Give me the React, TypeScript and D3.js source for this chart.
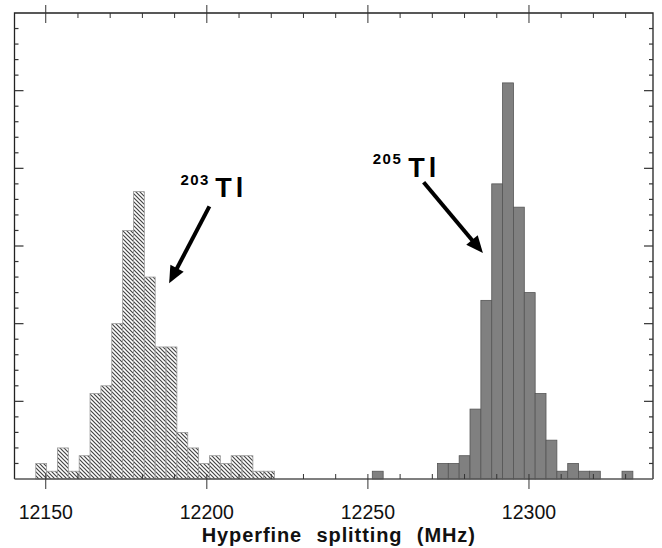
import React from "react";
import * as d3 from "d3";

// histogram bins (MHz)
const binStart = 12146.9;
const binWidth = 3.37;

// 203Tl counts, first bin index 0
const tl203Counts = [2, 1, 4, 1, 3, 11, 12, 20, 32, 37, 26, 17, 17, 6, 4, 2, 3, 2, 3, 3, 1, 1];
const tl203FirstBin = 0;

// 205Tl counts, first bin index 31
const tl205Counts = [1, 0, 0, 0, 0, 0, 2, 2, 3, 9, 23, 38, 51, 35, 24, 11, 5, 1, 2, 1, 1, 0, 0, 1];
const tl205FirstBin = 31;

const xTickValues = [12150, 12200, 12250, 12300];
const xAxisLabel = "Hyperfine splitting (MHz)";

// isotope labels: mass number, label anchor and arrow (data units)
const isotopes = [
  { mass: "203", at: [12191.8, 37.8], tl: [12202.6, 36.3], from: [12200.8, 35.1], to: [12188.3, 25.2] },
  { mass: "205", at: [12251.5, 40.6], tl: [12262.5, 38.9], from: [12267.3, 38.2], to: [12285.7, 29.1] }
];

const font = "'Liberation Sans', Arial, Helvetica, sans-serif";

function makeBins(counts: number[], first: number) {
  return counts
    .map((c, i) => ({
      x0: binStart + (first + i) * binWidth,
      x1: binStart + (first + i + 1) * binWidth,
      c
    }))
    .filter(d => d.c > 0);
}

export default function App() {
  const width = 662;
  const height = 548;
  const left = 14.5, right = 653, top = 13, bottom = 479;

  const x = d3.scaleLinear().domain([12140.3, 12338.5]).range([left, right]);
  const y = d3.scaleLinear().domain([0, 60]).range([bottom, top]);

  const bins203 = makeBins(tl203Counts, tl203FirstBin);
  const bins205 = makeBins(tl205Counts, tl205FirstBin);

  const xMinor = d3.range(12150, 12339, 10).filter(v => v % 50 !== 0);
  const yMinor = d3.range(2, 60, 2).filter(v => v % 10 !== 0);
  const yMajor = d3.range(10, 60, 10);

  const arrowHead = (x1: number, y1: number, x2: number, y2: number) => {
    const dx = x2 - x1, dy = y2 - y1;
    const len = Math.hypot(dx, dy);
    const ux = dx / len, uy = dy / len;
    const hl = 17, hw = 7.5;
    const bx = x2 - ux * hl, by = y2 - uy * hl;
    return {
      line: [x1, y1, bx + ux * 2, by + uy * 2],
      pts: `${x2},${y2} ${bx - uy * hw},${by + ux * hw} ${bx + uy * hw},${by - ux * hw}`
    };
  };

  const tickColor = "#333";

  return (
    <svg
      width={width}
      height={height}
      style={{ position: "absolute", left: 0, top: 0, background: "#fff" }}
    >
      <defs>
        <pattern id="hatch" patternUnits="userSpaceOnUse" width="4" height="4">
          <rect width="4" height="4" fill="#fff" />
          <path d="M-1,-1 L5,5 M3,-1 L5,1 M-1,3 L1,5" stroke="#444" strokeWidth="1.2" />
        </pattern>
      </defs>

      {/* 203Tl hatched histogram */}
      {bins203.map((d, i) => (
        <rect
          key={"a" + i}
          x={x(d.x0)}
          y={y(d.c)}
          width={x(d.x1) - x(d.x0)}
          height={y(0) - y(d.c)}
          fill="url(#hatch)"
          stroke="#999"
          strokeWidth={0.8}
        />
      ))}

      {/* 205Tl filled histogram */}
      {bins205.map((d, i) => (
        <rect
          key={"b" + i}
          x={x(d.x0)}
          y={y(d.c)}
          width={x(d.x1) - x(d.x0)}
          height={y(0) - y(d.c)}
          fill="#808080"
          stroke="#555"
          strokeWidth={0.8}
        />
      ))}

      {/* frame */}
      <path
        d={`M${left},${bottom} V${top} H${right} V${bottom}`}
        fill="none"
        stroke="#222"
        strokeWidth={1.3}
      />
      <line x1={left} x2={right} y1={bottom} y2={bottom} stroke="#555" strokeWidth={1.6} />

      {/* x ticks top and bottom */}
      {xTickValues.map(v => (
        <g key={"xt" + v}>
          <line x1={x(v)} x2={x(v)} y1={top - 8} y2={top + 10} stroke={tickColor} strokeWidth={1} />
          <line x1={x(v)} x2={x(v)} y1={bottom - 5} y2={bottom + 10} stroke={tickColor} strokeWidth={1} />
          <text
            x={x(v)}
            y={519}
            textAnchor="middle"
            fontFamily={font}
            fontSize={19.5}
            fill="#111"
          >
            {v}
          </text>
        </g>
      ))}
      {xMinor.map(v => (
        <g key={"xm" + v}>
          <line x1={x(v)} x2={x(v)} y1={top} y2={top + 5} stroke={tickColor} strokeWidth={1} />
          <line x1={x(v)} x2={x(v)} y1={bottom - 5} y2={bottom} stroke={tickColor} strokeWidth={1} />
        </g>
      ))}

      {/* y ticks left and right (no labels) */}
      {yMajor.map(v => (
        <g key={"ym" + v}>
          <line x1={left} x2={left + 9} y1={y(v)} y2={y(v)} stroke={tickColor} strokeWidth={1.2} />
          <line x1={right - 9} x2={right} y1={y(v)} y2={y(v)} stroke={tickColor} strokeWidth={1.2} />
        </g>
      ))}
      {yMinor.map(v => (
        <g key={"yn" + v}>
          <line x1={left} x2={left + 4} y1={y(v)} y2={y(v)} stroke={tickColor} strokeWidth={1.2} />
          <line x1={right - 4} x2={right} y1={y(v)} y2={y(v)} stroke={tickColor} strokeWidth={1.2} />
        </g>
      ))}

      {/* axis title */}
      <text
        x={(left + right) / 2 + 5}
        y={542}
        textAnchor="middle"
        fontFamily={font}
        fontWeight="bold"
        fontSize={20}
        letterSpacing={0.9}
        wordSpacing={8}
        fill="#111"
      >
        {xAxisLabel}
      </text>

      {/* isotope labels and arrows */}
      {isotopes.map(iso => {
        const a = arrowHead(x(iso.from[0]), y(iso.from[1]), x(iso.to[0]), y(iso.to[1]));
        return (
          <g key={iso.mass}>
            <text
              x={x(iso.at[0])}
              y={y(iso.at[1])}
              fontFamily={font}
              fontWeight="bold"
              fontSize={15}
              letterSpacing={1.5}
              fill="#000"
            >
              {iso.mass}
            </text>
            <text
              x={x(iso.tl[0])}
              y={y(iso.tl[1])}
              fontFamily={font}
              fontWeight="bold"
              fontSize={27}
              letterSpacing={4}
              fill="#000"
            >
              Tl
            </text>
            <line
              x1={a.line[0]}
              y1={a.line[1]}
              x2={a.line[2]}
              y2={a.line[3]}
              stroke="#000"
              strokeWidth={4}
            />
            <polygon points={a.pts} fill="#000" />
          </g>
        );
      })}
    </svg>
  );
}
